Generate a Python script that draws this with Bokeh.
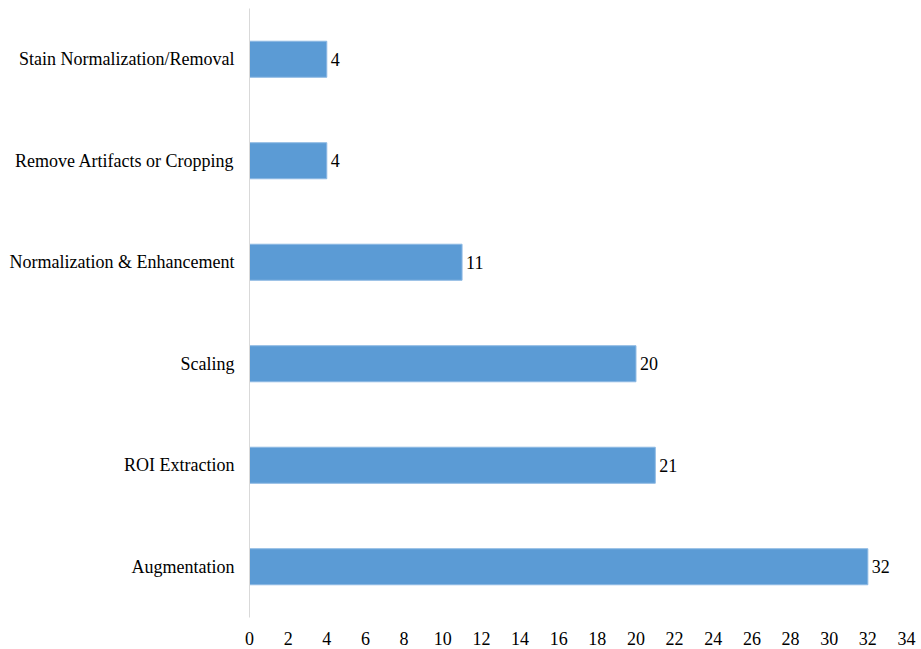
from bokeh.plotting import figure
from bokeh.models import FactorRange, Range1d, FixedTicker, ColumnDataSource
from bokeh.core.properties import value
from bokeh.embed import file_html
from bokeh.resources import INLINE

categories = ["Augmentation", "ROI Extraction", "Scaling",
              "Normalization & Enhancement", "Remove Artifacts or Cropping",
              "Stain Normalization/Removal"]
counts = [32, 21, 20, 11, 4, 4]
x_ticks = list(range(0, 36, 2))

FONT = "Liberation Serif"

src = ColumnDataSource(dict(cat=categories, val=counts, lab=[str(v) for v in counts]))

p = figure(width=921, height=649, output_backend="svg", toolbar_location=None,
           y_range=FactorRange(*categories, range_padding=0),
           x_range=Range1d(0, 34),
           min_border_left=249, min_border_right=15, min_border_top=8, min_border_bottom=32)
p.outline_line_color = None
p.grid.visible = False
p.background_fill_color = "white"
p.border_fill_color = "white"

p.hbar(y="cat", right="val", left=0, height=0.355, source=src,
       fill_color="#5B9BD5", line_color="#8DB9E3", line_width=1)

p.text(x="val", y="cat", text="lab", source=src, x_offset=4,
       text_baseline="middle", text_align="left",
       text_font=value(FONT), text_font_size="18px", text_color="#000000")

xa = p.xaxis[0]
xa.ticker = FixedTicker(ticks=x_ticks)
xa.axis_line_color = None
xa.major_tick_line_color = None
xa.minor_tick_line_color = None
xa.major_label_text_font = FONT
xa.major_label_text_font_size = "18px"
xa.major_label_text_color = "#000000"
xa.major_label_standoff = 8

ya = p.yaxis[0]
ya.axis_line_color = "#D9D9D9"
ya.axis_line_width = 1
ya.major_tick_line_color = None
ya.minor_tick_line_color = None
ya.major_label_text_font = FONT
ya.major_label_text_font_size = "18px"
ya.major_label_text_color = "#000000"
ya.major_label_standoff = 9

open("out.html", "w").write(file_html(p, INLINE))
